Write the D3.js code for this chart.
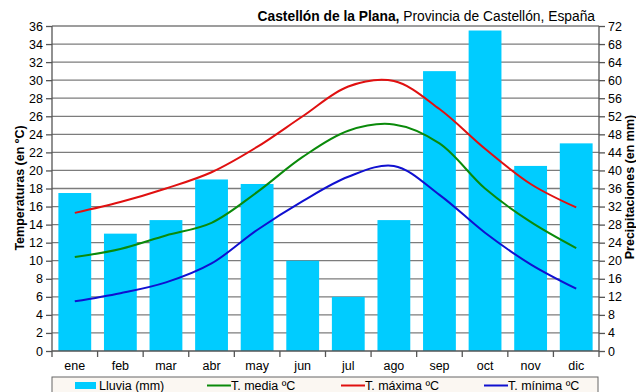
<!DOCTYPE html>
<html>
<head>
<meta charset="utf-8">
<script src="https://cdn.jsdelivr.net/npm/d3@7"></script>
<style>
  html, body { margin: 0; padding: 0; background: #fff; }
  svg { display: block; font-family: "Liberation Sans", Arial, sans-serif; }
</style>
</head>
<body>
<svg id="chart" width="636" height="392"></svg>
<script>
// Climate data, Castellón de la Plana
const months = ["ene", "feb", "mar", "abr", "may", "jun", "jul", "ago", "sep", "oct", "nov", "dic"];
const rain = [35, 26, 29, 38, 37, 20, 12, 29, 62, 71, 41, 46];            // mm
const tMean = [10.4, 11.3, 12.8, 14.2, 17.6, 21.5, 24.4, 25.1, 23.0, 18.0, 14.3, 11.4];
const tMax = [15.3, 16.5, 18.0, 19.8, 22.6, 26.0, 29.3, 29.9, 26.8, 22.4, 18.5, 15.9];
const tMin = [5.5, 6.4, 7.6, 9.7, 13.4, 16.6, 19.3, 20.5, 17.3, 13.1, 9.6, 6.9];
const tempTicks = d3.range(0, 37, 2);
const rainTicks = d3.range(0, 73, 4);

const svg = d3.select("#chart");
const pLeft = 52, pRight = 599, pTop = 26, pBottom = 351;

const x = d3.scaleBand().domain(months).range([pLeft, pRight]).paddingInner(0.28).paddingOuter(0.14);
const yT = d3.scaleLinear().domain([0, 36]).range([pBottom, pTop]);
const yP = d3.scaleLinear().domain([0, 72]).range([pBottom, pTop]);

// horizontal gridlines
svg.append("g").selectAll("line").data(tempTicks.filter(d => d > 0)).join("line")
  .attr("x1", pLeft).attr("x2", pRight)
  .attr("y1", d => yT(d)).attr("y2", d => yT(d))
  .attr("stroke", "#7c7c7c").attr("stroke-width", 1.3);

// rainfall bars
svg.append("g").selectAll("rect").data(rain).join("rect")
  .attr("x", (d, i) => x(months[i]))
  .attr("width", x.bandwidth())
  .attr("y", d => yP(d))
  .attr("height", d => yP(0) - yP(d))
  .attr("fill", "#00ccff");

// temperature curves
const line = d3.line()
  .x((d, i) => x(months[i]) + x.bandwidth() / 2)
  .y(d => yT(d))
  .curve(d3.curveCatmullRom.alpha(0.5));

const series = [
  { values: tMean, color: "#0a8a0a" },
  { values: tMax, color: "#e01010" },
  { values: tMin, color: "#1010d0" }
];
svg.append("g").selectAll("path").data(series).join("path")
  .attr("d", d => line(d.values))
  .attr("fill", "none")
  .attr("stroke", d => d.color)
  .attr("stroke-width", 2);

// axes
const axL = svg.append("g").attr("transform", `translate(${pLeft},0)`)
  .call(d3.axisLeft(yT).tickValues(tempTicks).tickSize(6).tickPadding(3));
const axR = svg.append("g").attr("transform", `translate(${pRight},0)`)
  .call(d3.axisRight(yP).tickValues(rainTicks).tickSize(6).tickPadding(3));
const axB = svg.append("g").attr("transform", `translate(0,${pBottom})`)
  .call(d3.axisBottom(x).tickSize(0).tickPadding(10));

[axL, axR, axB].forEach(a => {
  a.select(".domain").attr("stroke", "#555").attr("stroke-width", 1.3);
  a.selectAll(".tick line").attr("stroke", "#555").attr("stroke-width", 1.3);
  a.selectAll("text").attr("fill", "#000").style("font-size", "12.5px")
    .style("font-family", "'Liberation Sans', Arial, sans-serif");
});
axL.select(".domain").attr("d", `M0,${pTop}V${pBottom}`);
axR.select(".domain").attr("d", `M0,${pTop}V${pBottom}`);
axB.select(".domain").attr("d", `M${pLeft},0H${pRight}`);

// category separators on the x axis
const bounds = d3.range(0, months.length + 1).map(i => pLeft + i * x.step());
svg.append("g").selectAll("line").data(bounds).join("line")
  .attr("x1", d => d).attr("x2", d => d)
  .attr("y1", pBottom).attr("y2", pBottom + 6)
  .attr("stroke", "#555").attr("stroke-width", 1.3);

// axis titles
svg.append("text")
  .attr("transform", "translate(24,188) rotate(-90)")
  .attr("text-anchor", "middle")
  .style("font-size", "12.5px").style("font-weight", "bold")
  .text("Temperaturas (en ºC)");
svg.append("text")
  .attr("transform", "translate(634,187) rotate(-90)")
  .attr("text-anchor", "middle")
  .style("font-size", "12.5px").style("font-weight", "bold")
  .text("Precipitaciones (en mm)");

// title
const title = svg.append("text").attr("x", 595).attr("y", 21).attr("text-anchor", "end")
  .style("font-size", "13.8px");
title.append("tspan").style("font-weight", "bold").text("Castellón de la Plana,");
title.append("tspan").text(" Provincia de Castellón, España");

// legend
const lg = svg.append("g");
lg.append("rect").attr("x", 52).attr("y", 377).attr("width", 546).attr("height", 20)
  .attr("fill", "#fbf7f2").attr("stroke", "#666").attr("stroke-width", 1);
const items = [
  { label: "Lluvia (mm)", type: "bar", color: "#00ccff", x: 75 },
  { label: "T. media ºC", type: "line", color: "#0a8a0a", x: 207 },
  { label: "T. máxima ºC", type: "line", color: "#e01010", x: 341 },
  { label: "T. mínima ºC", type: "line", color: "#1010d0", x: 484 }
];
items.forEach(it => {
  if (it.type === "bar") {
    lg.append("rect").attr("x", it.x).attr("y", 382).attr("width", 21).attr("height", 7).attr("fill", it.color);
  } else {
    lg.append("line").attr("x1", it.x).attr("x2", it.x + 24).attr("y1", 385.5).attr("y2", 385.5)
      .attr("stroke", it.color).attr("stroke-width", 2);
  }
  lg.append("text").attr("x", it.x + 24).attr("y", 389.5)
    .style("font-size", "12.5px").text(it.label);
});
</script>
</body>
</html>
